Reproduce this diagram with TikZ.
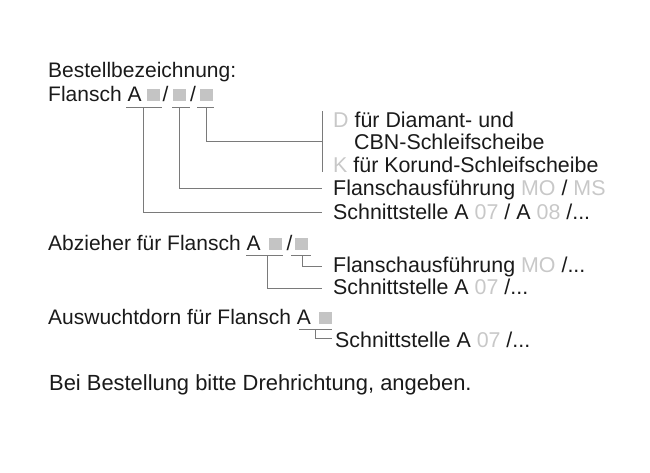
\documentclass[tikz,border=0pt]{standalone}
\usepackage{fontspec}
\setmainfont{Liberation Sans}
\definecolor{txt}{HTML}{1A1A1A}
\definecolor{lg}{HTML}{C8C8C8}
\definecolor{sqc}{HTML}{C4C4C4}
\definecolor{ln}{HTML}{7A7A7A}
\begin{document}
\begin{tikzpicture}[x=1pt,y=-1pt,
  lbl/.style={anchor=base west, inner sep=0pt, font=\fontsize{21}{25}\selectfont, text=txt},
  rlbl/.style={lbl, font=\fontsize{21.4}{25}\selectfont},
  sq/.style={fill=sqc, draw=none, inner sep=0pt, minimum width=12.5pt, minimum height=12pt},
  conn/.style={draw=ln, line width=0.9pt}]
\useasboundingbox (0,0) rectangle (650,472);
% --- Flansch block
\node[lbl] (t1) at (48,77) {Bestellbezeichnung:};
\node[lbl] (t2) at (48,101) {Flansch A};
\node[sq] (s1) at (153.5,95) {};
\node[lbl] (sl1) at (162.5,101) {/};
\node[sq] (s2) at (179.5,95) {};
\node[lbl] (sl2) at (190,101) {/};
\node[sq] (s3) at (206.5,95) {};
\node[rlbl] (d) at (333,127) {\textcolor{lg}{D} für Diamant- und};
\node[rlbl] (cbn) at (354,149) {CBN-Schleifscheibe};
\node[rlbl] (k) at (333,172) {\textcolor{lg}{K} für Korund-Schleifscheibe};
\node[rlbl] (fa) at (333,195) {Flanschausführung \textcolor{lg}{MO} / \textcolor{lg}{MS}};
\node[rlbl] (sa) at (333,219) {Schnittstelle A \textcolor{lg}{07} / A \textcolor{lg}{08} /...};
\coordinate (u1a) at (126,107.5); \coordinate (u1b) at (162,107.5);
\coordinate (u2a) at (172,107.5); \coordinate (u2b) at (190,107.5);
\coordinate (u3a) at (197,107.5); \coordinate (u3b) at (214,107.5);
\coordinate (v1) at (143,107.5); \coordinate (v2) at (179,107.5); \coordinate (v3) at (206,107.5);
\coordinate (bt) at (322,111); \coordinate (bb) at (322,172); \coordinate (bm) at (322,141);
\coordinate (ea) at (322,188); \coordinate (eb) at (322,212);
\draw[conn] (u1a) -- (u1b);
\draw[conn] (u2a) -- (u2b);
\draw[conn] (u3a) -- (u3b);
\draw[conn] (bt) -- (bb);
\draw[conn] (v3) |- (bm);
\draw[conn] (v2) |- (ea);
\draw[conn] (v1) |- (eb);
% --- Abzieher block
\node[lbl] (ab) at (48,250) {Abzieher für Flansch A};
\node[sq] (s4) at (275.5,244) {};
\node[lbl] (sl3) at (286.5,250) {/};
\node[sq] (s5) at (301.5,244) {};
\node[rlbl] (fa2) at (333,272) {Flanschausführung \textcolor{lg}{MO} /...};
\node[rlbl] (sa2) at (333,294) {Schnittstelle A \textcolor{lg}{07} /...};
\coordinate (u4a) at (246,255); \coordinate (u4b) at (283,255);
\coordinate (u5a) at (291,255); \coordinate (u5b) at (311,255);
\coordinate (v4) at (267,255); \coordinate (v5) at (302,255);
\coordinate (ec) at (322,266); \coordinate (ed) at (322,288);
\draw[conn] (u4a) -- (u4b);
\draw[conn] (u5a) -- (u5b);
\draw[conn] (v5) |- (ec);
\draw[conn] (v4) |- (ed);
% --- Auswuchtdorn block
\node[lbl] (aw) at (48,324) {Auswuchtdorn für Flansch A};
\node[sq] (s6) at (325.5,318) {};
\node[rlbl] (sa3) at (335,347) {Schnittstelle A \textcolor{lg}{07} /...};
\coordinate (u6a) at (299,329); \coordinate (u6b) at (332,329);
\coordinate (v6) at (315,329); \coordinate (ee) at (332,338);
\draw[conn] (u6a) -- (u6b);
\draw[conn] (v6) |- (ee);
% --- note
\node[lbl, font=\fontsize{21.9}{26}\selectfont] (note) at (49,390) {Bei Bestellung bitte Drehrichtung, angeben.};
\end{tikzpicture}
\end{document}
